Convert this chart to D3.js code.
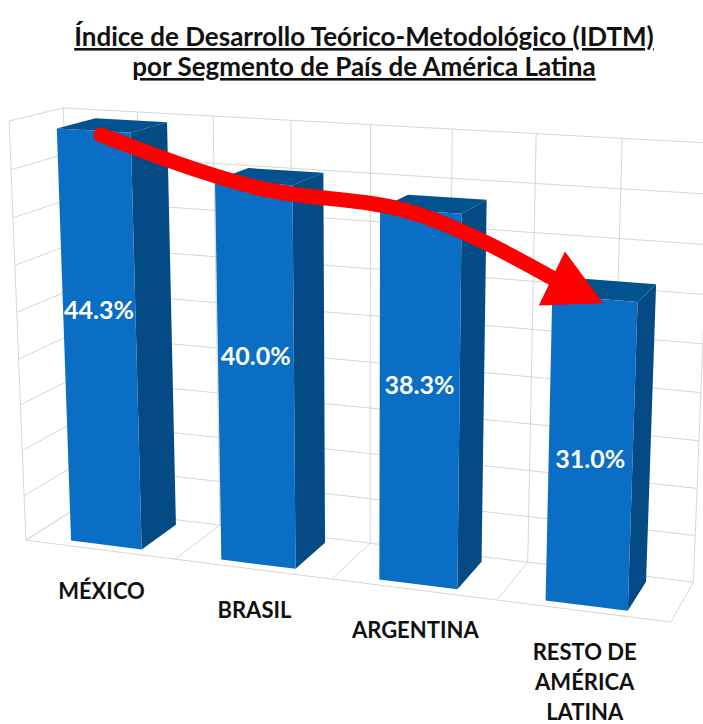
<!DOCTYPE html>
<html>
<head>
<meta charset="utf-8">
<script src="https://cdn.jsdelivr.net/npm/d3@7"></script>
<style>
  body { margin: 0; background: #fff; }
  text { font-family: Lato, "Open Sans", sans-serif; font-weight: bold; }
</style>
</head>
<body>
<div id="chart"></div>
<script>
// data
const categories = ["MÉXICO", "BRASIL", "ARGENTINA", "RESTO DE AMÉRICA LATINA"];
const categoryLines = [["MÉXICO"], ["BRASIL"], ["ARGENTINA"], ["RESTO DE", "AMÉRICA", "LATINA"]];
const values = [44.3, 40.0, 38.3, 31.0];
const valueLabels = ["44.3%", "40.0%", "38.3%", "31.0%"];
const yTicks = [0, 5, 10, 15, 20, 25, 30, 35, 40, 45];
const titleLines = ["Índice de Desarrollo Teórico-Metodológico (IDTM)", "por Segmento de País de América Latina"];

const width = 703, height = 724;

// camera (perspective view like excel 3d column)
const focal = 1987, pcx = 453, pcy = 298;
const yaw = 17.6 * Math.PI / 180, pitch = 12.9 * Math.PI / 180, roll = 0.6 * Math.PI / 180;
const pivot = [100, 335];
const cam0 = { x: -425, y: -243, z: 1987 };
const cyw = Math.cos(yaw), syw = Math.sin(yaw), cpt = Math.cos(pitch), spt = Math.sin(pitch);
const crl = Math.cos(roll), srl = Math.sin(roll);

function project(X, Y, Z) {
  const x = X * cyw + Z * syw;
  const z1 = -X * syw + Z * cyw;
  const y = Y * cpt + z1 * spt;
  const z = -Y * spt + z1 * cpt;
  const cz = cam0.z + z;
  const sx = pcx + focal * (cam0.x + x) / cz - pivot[0];
  const sy = pcy - focal * (cam0.y + y) / cz - pivot[1];
  return [pivot[0] + sx * crl - sy * srl, pivot[1] + sx * srl + sy * crl];
}

// scales in world units
const W = 655, depth = 106;
const x = d3.scaleBand().domain(categories).range([0, W]).paddingInner(0.524).paddingOuter(0.262);
const y = d3.scaleLinear().domain([0, 45]).range([0, 421.2]);
const bw = x.bandwidth();
const zFront = (depth - bw) / 2, zBack = zFront + bw;

const svg = d3.select("#chart").append("svg")
  .attr("width", width).attr("height", height);

const grid = svg.append("g")
  .attr("fill", "none").attr("stroke", "#d6d6d6").attr("stroke-width", 1);

function seg(a, b) {
  grid.append("line")
    .attr("x1", a[0]).attr("y1", a[1]).attr("x2", b[0]).attr("y2", b[1]);
}

// back wall
yTicks.forEach(t => seg(project(0, y(t), depth), project(W, y(t), depth)));
d3.range(0, 9).forEach(i => {
  const X = i * x.step() / 2;
  seg(project(X, 0, depth), project(X, y(45), depth));
});
// side wall (left)
yTicks.forEach(t => seg(project(0, y(t), 0), project(0, y(t), depth)));
seg(project(0, 0, 0), project(0, y(45), 0));
// floor
seg(project(0, 0, 0), project(W, 0, 0));
d3.range(0, 5).forEach(i => {
  const X = i * x.step();
  seg(project(X, 0, 0), project(X, 0, depth));
});

const line = d3.line();
const poly = pts => line(pts) + "Z";

// bars
const bars = svg.append("g");
categories.forEach((c, i) => {
  const x0 = x(c), x1 = x(c) + bw, h = y(values[i]);
  const g = bars.append("g");
  g.append("path")
    .attr("d", poly([project(x0, h, zFront), project(x1, h, zFront), project(x1, h, zBack), project(x0, h, zBack)]))
    .attr("fill", "#02528f");
  g.append("path")
    .attr("d", poly([project(x1, 0, zFront), project(x1, 0, zBack), project(x1, h, zBack), project(x1, h, zFront)]))
    .attr("fill", "#044b86");
  g.append("path")
    .attr("d", poly([project(x0, 0, zFront), project(x1, 0, zFront), project(x1, h, zFront), project(x0, h, zFront)]))
    .attr("fill", "#0a6fc4");
});

// trend arrow across the bar tops
const anchors = categories.map((c, i) => {
  const p = project(x(c) + bw * (i === 0 ? 0.6 : 0.5), y(values[i]), zFront);
  return [p[0], p[1] + 4];
});
const tipBase = project(x(categories[3]) + bw * 0.6, y(values[3]), zFront);
const tip = [tipBase[0], tipBase[1] + 4];
const prev = anchors[2];
const dx = tip[0] - prev[0], dy = tip[1] - prev[1], len = Math.hypot(dx, dy);
const ux = dx / len, uy = dy / len;
const headLen = 57, headHalf = 30;
const base = [tip[0] - ux * headLen, tip[1] - uy * headLen];
const shaftEnd = [tip[0] - ux * (headLen - 10), tip[1] - uy * (headLen - 10)];

svg.append("path")
  .attr("d", d3.line().curve(d3.curveMonotoneX)([anchors[0], anchors[1], anchors[2], shaftEnd]))
  .attr("fill", "none").attr("stroke", "#ff0000").attr("stroke-width", 15)
  .attr("stroke-linecap", "round").attr("stroke-linejoin", "round");
svg.append("path")
  .attr("d", poly([tip, [base[0] - uy * headHalf, base[1] + ux * headHalf], [base[0] + uy * headHalf, base[1] - ux * headHalf]]))
  .attr("fill", "#ff0000");

// value labels
const labelAt = (d, i) => project(x(categories[i]) + bw / 2, y(d * 0.8 - 9.8), zFront);
svg.append("g").selectAll("text")
  .data(values)
  .join("text")
  .attr("x", (d, i) => labelAt(d, i)[0])
  .attr("y", (d, i) => labelAt(d, i)[1])
  .attr("dy", "0.35em")
  .attr("text-anchor", "middle")
  .attr("fill", "#fff")
  .attr("font-size", 25)
  .text((d, i) => valueLabels[i]);

// category labels
const cat = svg.append("g");
categories.forEach((c, i) => {
  const p = project(x(c) + bw / 2, 0, 0);
  const t = cat.append("text")
    .attr("text-anchor", "middle")
    .attr("font-size", 22)
    .attr("fill", "#111");
  categoryLines[i].forEach((s, j) => {
    t.append("tspan").attr("x", p[0] + 2).attr("y", p[1] + 49 + j * 30).text(s);
  });
});

// title
svg.append("g").selectAll("text")
  .data(titleLines)
  .join("text")
  .attr("x", 364)
  .attr("y", (d, i) => 46 + i * 30)
  .attr("text-anchor", "middle")
  .attr("font-size", 26)
  .attr("fill", "#111")
  .attr("text-decoration", "underline")
  .text(d => d);
</script>
</body>
</html>
